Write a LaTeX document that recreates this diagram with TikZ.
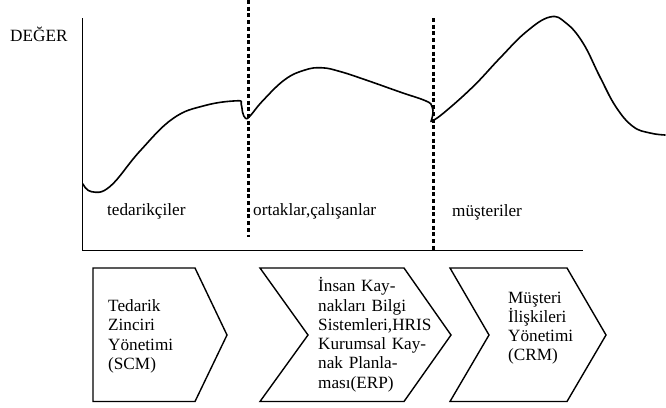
\documentclass[tikz,border=0pt]{standalone}
\usepackage{fontspec}
\setmainfont{Liberation Serif}
\begin{document}
\begin{tikzpicture}[x=1pt,y=-1pt,
  lbl/.style={inner sep=0pt, anchor=base west, font=\fontsize{17.2}{19.3}\selectfont},
  boxtext/.style={lbl, align=left, text width=135pt},
  axisline/.style={line width=1.8pt, line join=miter},
  divider/.style={line width=3pt, dash pattern=on 4pt off 2.7pt},
  valuecurve/.style={line width=1.6pt, line join=round, line cap=round},
  chevron/.style={line width=1.4pt, line join=miter}]
\useasboundingbox (0,0) rectangle (666,407);

% axes
\draw[axisline] (82.5,18) -- (82.5,250.5) -- (583,250.5);

% dotted separators between the value regions
\draw[divider] (248.5,0) -- (248.5,237);
\draw[divider] (433,18) -- (433,250);

% value curve
\draw[valuecurve]
  plot[smooth, tension=0.7] coordinates {
    (83,184) (91.5,191.7) (110,186.5) (140,151) (173,118.5) (205,105.5)
    (237,100.8) (241.2,104) (242.5,112) (245.5,118.3) (250,116)
    (263,100.5) (285,79.5) (305,70) (322,67.8) (340,71.5)
    (366,80) (400,92) (426,101) (432,106.5) (432.8,114) (431,121.5)}
  plot[smooth, tension=0.7] coordinates {
    (431,121.5) (443,113.5) (473,86.7) (500,58) (526,32) (550,17)
    (566,23) (583,43) (600,77) (616,107) (633,126.5) (650,133) (665,135)};

% region labels
\node[lbl] (deger) at (10,41.5) {DEĞER};
\node[lbl] (tedarikci) at (107,215) {tedarikçiler};
\node[lbl] (ortaklar) at (253,215) {ortaklar,çalışanlar};
\node[lbl] (musteri) at (452,216) {müşteriler};

% process chevrons
\draw[chevron] (93,268) -- (195,268) -- (227,335) -- (195,401.5) -- (93,401.5) -- cycle;
\draw[chevron] (260,268) -- (404,268) -- (451,335) -- (404,401.5) -- (260,401.5) -- (308,335) -- cycle;
\draw[chevron] (450,268) -- (567,268) -- (606,335) -- (567,401.5) -- (450,401.5) -- (489,335) -- cycle;

\node[boxtext] (scm) at (108,311.5) {Tedarik\\Zinciri\\Yönetimi\\(SCM)};
\node[boxtext] (erp) at (318,291.7) {İnsan Kay-\\nakları Bilgi\\Sistemleri,HRIS\\Kurumsal Kay-\\nak Planla-\\ması(ERP)};
\node[boxtext] (crm) at (508,303) {Müşteri\\İlişkileri\\Yönetimi\\(CRM)};
\end{tikzpicture}
\end{document}
